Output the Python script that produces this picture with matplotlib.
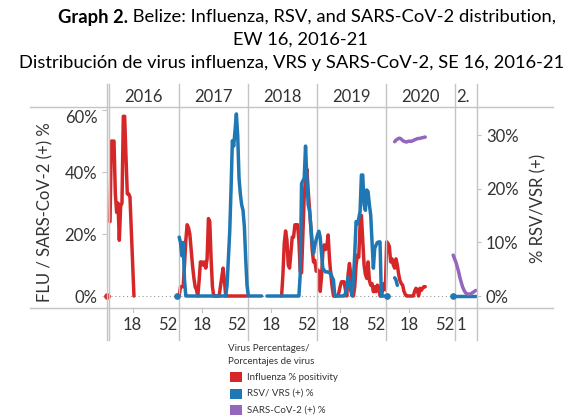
import numpy as np
import matplotlib.pyplot as plt
from matplotlib.lines import Line2D
from matplotlib.patches import Rectangle
from matplotlib.transforms import blended_transform_factory

W, H = 584, 419
RED, BLUE, PURPLE = '#d62728', '#1f77b4', '#9467bd'
GRID = '#c4c4c4'
TXT = '#333333'
FONT = 'Lato'

years = [2016, 2017, 2018, 2019, 2020, 2021]
year_labels = ['2016', '2017', '2018', '2019', '2020', '2.']

# influenza % positivity (left axis), weekly values, None = week not reported
flu_2015 = [0]                                   # EW 51
flu_2016 = [24, 50, 50, 50, 33, 27, 30, 18, 29, 30, 58, 58, 45, 33, 33, 32,
            None, None, 0]                       # EW 1-19
flu_2017 = [0, 3, 3, 3, 10, 18, 23, 22, 20, 15, 10, 6, 3, 2, 0, 5, 11, 11,
            10, 11, 9, 12, 25, 24, 12, 3, 0, 0, 0, 0, 0, 3, 6, 9, 5, 0] + [0] * 16
flu_2018 = [0, 7, 17, 21, 18, 10, 9, 14, 19, 19, 23, 23, 23, 18, 8, 7.5, 20,
            32, 38, 41, 34, 28, 22, 15, 11, 11.5, 8]          # EW 26-52
flu_2019 = [8.5, 8, 1.5, 6, 14, 16.5, 15, 16, 19.7, 12, 7, 3, 0, 0, 0, 0, 1,
            3, 4.6, 4.6, 4.6, 2, 0, 7, 10.5, 7, 3, 0, 3, 10, 13.2, 12.5, 22.9,
            26, 18, 10, 7, 5.7, 11, 5, 3.5, 4, 1.4, 3, 1.4, 3.5, 3, 0, 0, 2,
            4, 2]
flu_2020 = [17.5, 17, 16, 11, 12, 10, 9, 12, 10, 7, 5, 4, 3.5, 1.5, 0.5, 0,
            0, 0, 0, 0, 0, 1.5, 2.5, 2, 0, 2.5, 1.8, 2.5, 3, 3]  # EW 1-30

# RSV / VRS (+) % (right axis)
rsv_2016 = [0]                                   # EW 51
rsv_2017 = [11, 10, 7.5, 10, 3] + [0] * 31 + [2, 7, 12, 20, 29, 28, 31, 34,
                                              30, 22, 19, 17, 16, 13, 7, 2]
rsv_2018_early = [0] * 11                        # EW 1-11
rsv_2018 = [0] * 25 + [4, 21, 21.5, 22, 28, 22, 17, 16, 13, 10, 8, 9.5,
                       10.5]                     # EW 15-52
rsv_2019 = [11.4, 12.1, 11, 8, 5.2, 4.8, 4.5, 4.5, 4.5, 4.3, 4.2, 3.5, 3] + \
    [0] * 8 + [0.5, 2, 3.6, 2.5, 1, 0, 3, 8, 13.9, 13.5, 14.5, 15.8, 22.6,
               22.6, 17, 16, 19.8, 19.5, 17, 15.1, 10, 5.2, 8.9, 9.5, 10,
               10.1, 10.1, 0, 0, 0]              # EW 1-51
rsv_2020_w1 = [0]
rsv_2020_spring = [3.4, 3.0, 2.0]                # EW 7-9
rsv_2020_w51 = [0]
rsv_2021 = [0] * 16

# SARS-CoV-2 (+) % (left axis)
cov_2020 = [49.8, 50.3, 50.6, 50.9, 50.9, 50.6, 50.2, 49.9, 49.8, 49.7, 49.9,
            50.0, 49.9, 50.0, 50.2, 50.4, 50.6, 50.8, 50.8, 50.9, 51.0, 51.1,
            51.2, 51.3]                          # EW 7-30
cov_2020_end = [13.2, 12]                        # EW 51-52
cov_2021 = [11, 9.5, 8, 6, 4.5, 3, 2, 1.2, 0.8, 0.6, 0.6, 0.7, 0.9, 1.2,
            1.5, 1.8]                            # EW 1-16

flu_runs = [(2015, 51, flu_2015), (2016, 1, flu_2016), (2017, 1, flu_2017),
            (2018, 26, flu_2018 + flu_2019 + flu_2020)]
rsv_runs = [(2016, 51, rsv_2016), (2017, 1, rsv_2017 + rsv_2018_early),
            (2018, 15, rsv_2018 + rsv_2019), (2020, 1, rsv_2020_w1),
            (2020, 7, rsv_2020_spring), (2020, 51, rsv_2020_w51),
            (2021, 1, rsv_2021)]
cov_runs = [(2020, 7, cov_2020), (2020, 51, cov_2020_end + cov_2021)]


def gweek(year, week):
    return (year - 2016) * 52 + week - 1


def draw_runs(ax, runs, color, z, transform=None):
    tr = transform if transform is not None else ax.transData
    for year, first, vals in runs:
        xs = [gweek(year, first + i) for i, v in enumerate(vals) if v is not None]
        ys = [v for v in vals if v is not None]
        if len(xs) == 1:
            ax.plot(xs, ys, 'o', color=color, ms=3.8, zorder=z, transform=tr,
                    clip_on=False)
        else:
            ax.plot(xs, ys, '-', color=color, lw=2.5, zorder=z, transform=tr,
                    solid_joinstyle='round', solid_capstyle='round')


def fx(px):
    return px / W


def fy(py):
    return 1 - py / H


fig = plt.figure(figsize=(W / 100, H / 100), dpi=100)
ax = fig.add_axes([fx(107), fy(308), (477 - 107) / W, (308 - 107) / H])
ax2 = ax.twinx()

ax.set_xlim(-2.26, 275.9)
ax.set_ylim(-3.87, 61.0)
ax2.set_ylim(-2.24, 35.3)

for a in (ax, ax2):
    for s in a.spines.values():
        s.set_visible(False)
ax.set_xticks([])

# zero reference line
ax.axhline(0, color='#999999', lw=0.8, ls=(0, (1, 2.5)), zorder=1)

draw_runs(ax, flu_runs, RED, 2)
draw_runs(ax, rsv_runs, BLUE, 3, transform=ax2.transData)
draw_runs(ax, cov_runs, PURPLE, 4)

# y axes
ax.set_yticks([0, 20, 40, 60])
ax.set_yticklabels(['0%', '20%', '40%', '60%'])
ax.tick_params(axis='y', length=3.6, width=0.8, color=GRID, pad=3.4,
               labelsize=12, labelcolor=TXT)
for lab in ax.get_yticklabels():
    lab.set_fontfamily(FONT)
ax.get_yticklabels()[-1].set_va('top')
ax2.set_yticks([0, 10, 20, 30])
ax2.set_yticklabels(['0%', '10%', '20%', '30%'])
ax2.tick_params(axis='y', length=3.2, width=0.8, color=GRID, pad=3.2,
                labelsize=12, labelcolor=TXT)
for lab in ax2.get_yticklabels():
    lab.set_fontfamily(FONT)

fig.text(fx(45), fy(212), 'FLU / SARS-CoV-2 (+) %', rotation=90, ha='center',
         va='center', fontsize=12, color=TXT, family=FONT)
fig.text(fx(538), fy(208), '% RSV/VSR (+)', rotation=90, ha='center',
         va='center', fontsize=12, color=TXT, family=FONT)

# frame lines
for py in (107, 308):
    fig.add_artist(Line2D([fx(30), fx(553)], [fy(py), fy(py)], color=GRID,
                          lw=1.0))
for px in (107, 477):
    fig.add_artist(Line2D([fx(px), fx(px)], [fy(84), fy(340)], color=GRID,
                          lw=1.0))
bt = blended_transform_factory(ax.transData, fig.transFigure)
for k in range(len(years)):
    b = 52 * k - 0.5
    ax.add_line(Line2D([b, b], [fy(84), fy(340)], transform=bt, color=GRID,
                       lw=1.0, clip_on=False))

# year header and week labels
for k, lab in enumerate(year_labels):
    if k < 5:
        ax.text(52 * k + 25.5, fy(97), lab, transform=bt, ha='center',
                va='center', fontsize=12, color=TXT, family=FONT)
        ax.text(52 * k + 17, fy(325), '18', transform=bt, ha='center',
                va='center', fontsize=12, color=TXT, family=FONT)
        ax.text(52 * k + 50.8, fy(325), '52', transform=bt, ha='right',
                va='center', fontsize=12, color=TXT, family=FONT)
        ax.add_line(Line2D([52 * k + 17] * 2, [fy(308), fy(312)], transform=bt,
                           color=GRID, lw=0.8, clip_on=False))
    else:
        ax.text(52 * k + 0.6, fy(97), lab, transform=bt, ha='left',
                va='center', fontsize=12, color=TXT, family=FONT)
        ax.text(52 * k + 0.6, fy(325), '1', transform=bt, ha='left',
                va='center', fontsize=12, color=TXT, family=FONT)

# title
TS = 13.2
t1 = fig.text(fx(58), fy(17), 'Graph 2.', ha='left', va='center', fontsize=TS,
              fontweight='bold', family=FONT)
fig.canvas.draw()
bb = t1.get_window_extent()
fig.text(bb.x1 / W, fy(17), ' Belize: Influenza, RSV, and SARS-CoV-2 distribution,',
         ha='left', va='center', fontsize=TS, family=FONT)
fig.text(fx(300), fy(40), 'EW 16, 2016-21', ha='center', va='center',
         fontsize=TS, family=FONT)
fig.text(fx(292), fy(63), 'Distribución de virus influenza, VRS y SARS-CoV-2, SE 16, 2016-21',
         ha='center', va='center', fontsize=TS, family=FONT)

# legend
fig.text(fx(228), fy(348), 'Virus Percentages/', ha='left', va='center',
         fontsize=7, color=TXT, family=FONT)
fig.text(fx(228), fy(361), 'Porcentajes de virus', ha='left', va='center',
         fontsize=7, color=TXT, family=FONT)
for py, col, lab in [(377, RED, 'Influenza % positivity'),
                     (393.5, BLUE, 'RSV/ VRS (+) %'),
                     (410, PURPLE, 'SARS-CoV-2 (+) %')]:
    fig.add_artist(Rectangle((fx(229.5), fy(py + 5)), 12.5 / W, 10 / H,
                             color=col, lw=0))
    fig.text(fx(247), fy(py), lab, ha='left', va='center', fontsize=7,
             color=TXT, family=FONT)

fig.savefig('out.png', dpi=100)
